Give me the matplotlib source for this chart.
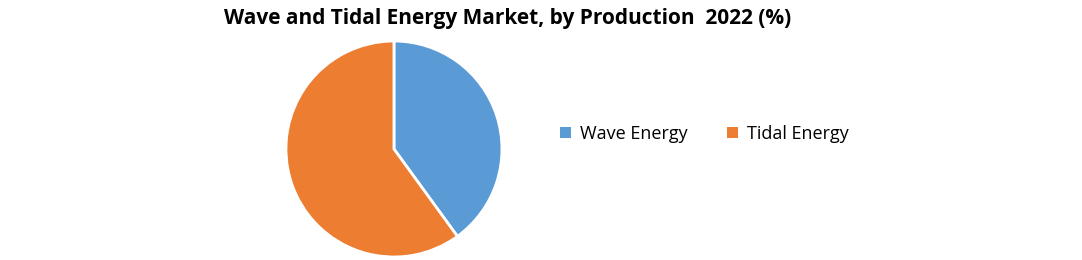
import matplotlib
matplotlib.use('Agg')
import matplotlib.pyplot as plt
from matplotlib.patches import Patch

# data
labels = ['Wave Energy', 'Tidal Energy']
shares = [40, 60]
colors = ['#5b9bd5', '#ed7d31']

plt.rcParams['font.family'] = ['Open Sans', 'DejaVu Sans']

fig = plt.figure(figsize=(10.82, 2.6), dpi=100, facecolor='white')

# pie sits left of centre, radius ~108px
ax = fig.add_axes([0.2643, 0.0115, 0.1996, 0.8308])
ax.pie(shares, colors=colors, startangle=90, counterclock=False,
       wedgeprops=dict(edgecolor='white', linewidth=2))
ax.set_xlim(-1, 1)
ax.set_ylim(-1, 1)
ax.set_aspect('equal')
ax.axis('off')

fig.text(0.469, 0.93, 'Wave and Tidal Energy Market, by Production  2022 (%)',
         ha='center', va='center', fontsize=15, fontweight='bold')

handles = [Patch(facecolor=c, edgecolor='none') for c in colors]
fig.legend(handles, labels, loc='center', bbox_to_anchor=(0.651, 0.485),
           ncol=2, frameon=False, fontsize=13, handlelength=0.6, handleheight=0.6,
           handletextpad=0.5, columnspacing=2.2)

fig.savefig('out.png', dpi=100, facecolor='white')
